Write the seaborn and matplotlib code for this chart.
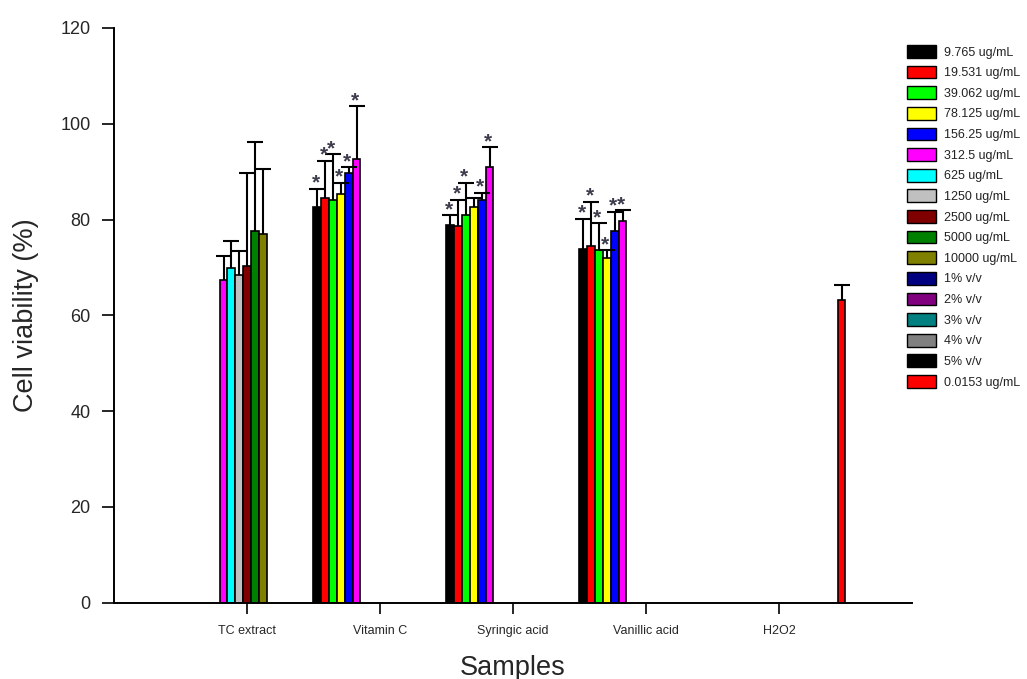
import matplotlib
matplotlib.use("Agg")
import matplotlib.pyplot as plt
from matplotlib.patches import Patch
import numpy as np
import pandas as pd
import seaborn as sns

# ---------------- data ----------------
samples = ["TC extract", "Vitamin C", "Syringic acid", "Vanillic acid", "H2O2"]

concentrations = ["9.765 ug/mL", "19.531 ug/mL", "39.062 ug/mL", "78.125 ug/mL",
                  "156.25 ug/mL", "312.5 ug/mL", "625 ug/mL", "1250 ug/mL",
                  "2500 ug/mL", "5000 ug/mL", "10000 ug/mL", "1% v/v", "2% v/v",
                  "3% v/v", "4% v/v", "5% v/v", "0.0153 ug/mL"]

colors = ["#000000", "#FF0000", "#00FF00", "#FFFF00", "#0000FF", "#FF00FF",
          "#00FFFF", "#C0C0C0", "#800000", "#008000", "#808000", "#000080",
          "#800080", "#008080", "#808080", "#000000", "#FF0000"]

tc_conc = ["312.5 ug/mL", "625 ug/mL", "1250 ug/mL", "2500 ug/mL", "5000 ug/mL", "10000 ug/mL"]
tc_mean = [67.4, 69.9, 68.5, 70.2, 77.7, 76.9]
tc_sd = [4.9, 5.7, 4.9, 19.6, 18.5, 13.6]
tc_star = [False, False, False, False, False, False]

vitc_conc = ["9.765 ug/mL", "19.531 ug/mL", "39.062 ug/mL", "78.125 ug/mL", "156.25 ug/mL", "312.5 ug/mL"]
vitc_mean = [82.6, 84.5, 84.0, 85.4, 89.8, 92.6]
vitc_sd = [3.8, 7.8, 9.7, 2.3, 1.1, 11.1]
vitc_star = [True, True, True, True, True, True]

syr_conc = ["9.765 ug/mL", "19.531 ug/mL", "39.062 ug/mL", "78.125 ug/mL", "156.25 ug/mL", "312.5 ug/mL"]
syr_mean = [78.9, 78.7, 80.9, 82.7, 84.1, 90.9]
syr_sd = [2.0, 5.4, 6.8, 1.7, 1.5, 4.2]
syr_star = [True, True, True, False, True, True]

van_conc = ["9.765 ug/mL", "19.531 ug/mL", "39.062 ug/mL", "78.125 ug/mL", "156.25 ug/mL", "312.5 ug/mL"]
van_mean = [73.9, 74.4, 73.7, 72.0, 77.7, 79.7]
van_sd = [6.3, 9.3, 5.5, 1.6, 3.9, 2.2]
van_star = [True, True, True, True, True, True]

h2o2_conc = ["0.0153 ug/mL"]
h2o2_mean = [63.1]
h2o2_sd = [3.2]
h2o2_star = [False]

groups = [
    ("TC extract", tc_conc, tc_mean, tc_sd, tc_star),
    ("Vitamin C", vitc_conc, vitc_mean, vitc_sd, vitc_star),
    ("Syringic acid", syr_conc, syr_mean, syr_sd, syr_star),
    ("Vanillic acid", van_conc, van_mean, van_sd, van_star),
    ("H2O2", h2o2_conc, h2o2_mean, h2o2_sd, h2o2_star),
]
rows = []
for s, conc, mean, sd, star in groups:
    for c, m, e, st in zip(conc, mean, sd, star):
        rows.append({"sample": s, "concentration": c, "viability": m, "sd": e, "star": st})
df = pd.DataFrame(rows)

# ---------------- style ----------------
sns.set_style("ticks")
plt.rcParams["font.family"] = ["Liberation Sans", "DejaVu Sans"]

fig = plt.figure(figsize=(10.27, 6.79), dpi=100)
ax = fig.add_axes([114 / 1027, (679 - 602.5) / 679, (912 - 114) / 1027, (602.5 - 28) / 679])

sns.barplot(data=df, x="sample", y="viability", hue="concentration",
            order=samples, hue_order=concentrations, palette=colors,
            width=1.0, dodge=True, errorbar=None, saturation=1,
            edgecolor="black", linewidth=1.2, legend=False, ax=ax)

# match bars to data rows (per sample, ordered by x / hue order)
bars = [p for p in ax.patches if np.isfinite(p.get_height()) and p.get_height() > 0]
xs, ys, es, stars = [], [], [], []
for i, s in enumerate(samples):
    sub = df[df["sample"] == s].copy()
    sub["hidx"] = sub["concentration"].map(concentrations.index)
    sub = sub.sort_values("hidx")
    pb = sorted([p for p in bars if round(p.get_x() + p.get_width() / 2) == i],
                key=lambda p: p.get_x())
    for p, (_, r) in zip(pb, sub.iterrows()):
        xs.append(p.get_x() + p.get_width() / 2)
        ys.append(p.get_height())
        es.append(r["sd"])
        stars.append(r["star"])

eb = ax.errorbar(xs, ys, yerr=[np.zeros(len(es)), es], fmt="none", ecolor="black",
                 elinewidth=1.5, capsize=5.5, capthick=1.5, zorder=3)
eb.lines[1][0].set_visible(False)  # only upper caps

for x, y, e, st in zip(xs, ys, es, stars):
    if st:
        ax.annotate("*", xy=(x, y + e), xytext=(-1.2, 0.0), textcoords="offset points",
                    ha="center", va="baseline", fontsize=15, fontweight="bold",
                    color="#3c3c4c")

ax.set_xlim(-1, 5)
ax.set_ylim(0, 120)
ax.set_yticks(np.arange(0, 121, 20))
for side in ["top", "right"]:
    ax.spines[side].set_visible(False)
for side in ["left", "bottom"]:
    ax.spines[side].set_linewidth(1.4)
    ax.spines[side].set_color("black")

ax.tick_params(axis="y", direction="out", length=9, width=1.4, labelsize=13, pad=8)
ax.tick_params(axis="x", direction="out", length=8, width=1.4, labelsize=9, pad=8)
ax.set_ylabel("Cell viability (%)", fontsize=19.5, labelpad=15)
ax.set_xlabel("Samples", fontsize=19.5, labelpad=13)

handles = [Patch(facecolor=c, edgecolor="black", linewidth=1.0, label=l)
           for c, l in zip(colors, concentrations)]
fig.legend(handles=handles, loc="upper left", bbox_to_anchor=(907 / 1027, 1 - 45 / 679),
           frameon=False, fontsize=9, handlelength=2.3, handleheight=1.2,
           labelspacing=0.56, handletextpad=0.65, borderpad=0, borderaxespad=0,
           labelcolor="#222222")

fig.savefig("out.png", dpi=100)
